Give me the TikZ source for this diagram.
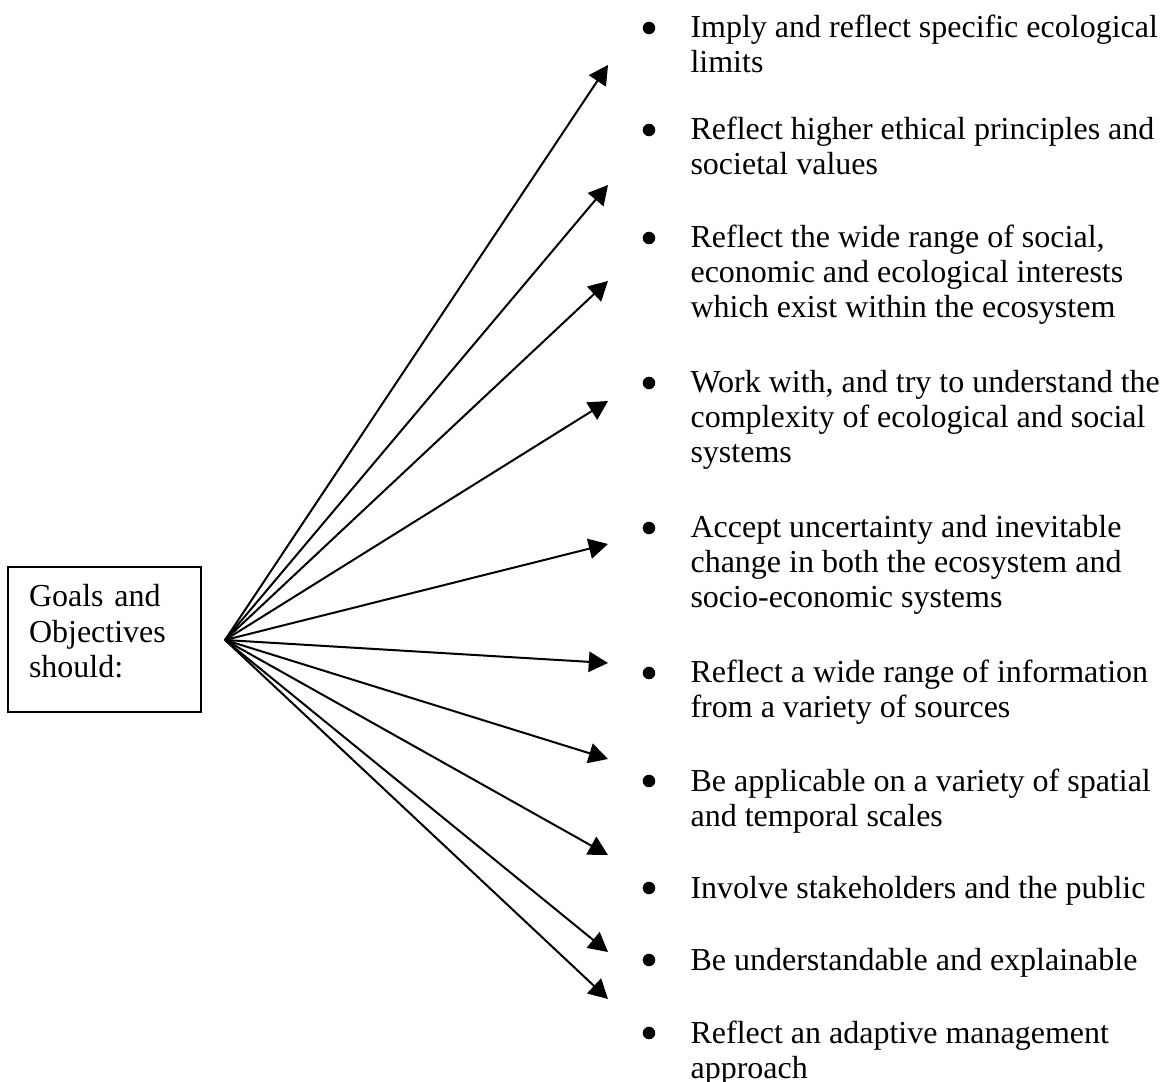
\documentclass[tikz,border=0pt]{standalone}
\usepackage{fontspec}
\setmainfont{Liberation Serif}
\usetikzlibrary{arrows.meta}
\newcommand{\itemlines}[1]{\begin{tabular}[t]{@{}l@{}}#1\end{tabular}}
\tikzset{
  px/.style={x=0.375pt,y=-0.375pt},
  goalbox/.style={draw,line width=0.75pt,minimum width=72.4pt,minimum height=54.4pt,
    text width=56.6pt,inner xsep=7.9pt,text height=9pt,text depth=33.4pt,align=left,font=\fontsize{12}{13.3}\selectfont},
  item/.style={anchor=base west,inner sep=0pt,font=\fontsize{12}{13.125}\selectfont},
  bulletdot/.style={circle,fill=black,inner sep=0pt,minimum size=4.7pt},
  ray/.style={line width=0.75pt,-{Triangle[length=7.2pt,width=7.6pt]}}
}
\begin{document}
\begin{tikzpicture}[px]
\useasboundingbox (0,0) rectangle (1167,1082);
\node[goalbox] (goal) at (104.5,639.5) {Goals and\\Objectives\\should:};
\coordinate (o) at (225,640);
\foreach \i/\y in {1/65,2/185,3/281,4/401,5/544,6/663,7/759,8/855,9/952,10/999}{
  \coordinate (t\i) at (608,\y);
}
\foreach \i in {1,...,10}{ \draw[ray] (o) -- (t\i); }
\foreach \i/\y/\txt in {
  1/28/{Imply and reflect specific ecological\\limits},
  2/130/{Reflect higher ethical principles and\\societal values},
  3/238/{Reflect the wide range of social,\\economic and ecological interests\\which exist within the ecosystem},
  4/383/{Work with, and try to understand the\\complexity of ecological and social\\systems},
  5/528/{Accept uncertainty and inevitable\\change in both the ecosystem and\\socio-economic systems},
  6/673/{Reflect a wide range of information\\from a variety of sources},
  7/781/{Be applicable on a variety of spatial\\and temporal scales},
  8/888/{Involve stakeholders and the public},
  9/960/{Be understandable and explainable},
  10/1033/{Reflect an adaptive management\\approach}}{
  \node[bulletdot] (b\i) at (649,\y) {};
  \node[item] (it\i) at (690,\y+10) {\itemlines{\txt}};
}
\end{tikzpicture}
\end{document}
